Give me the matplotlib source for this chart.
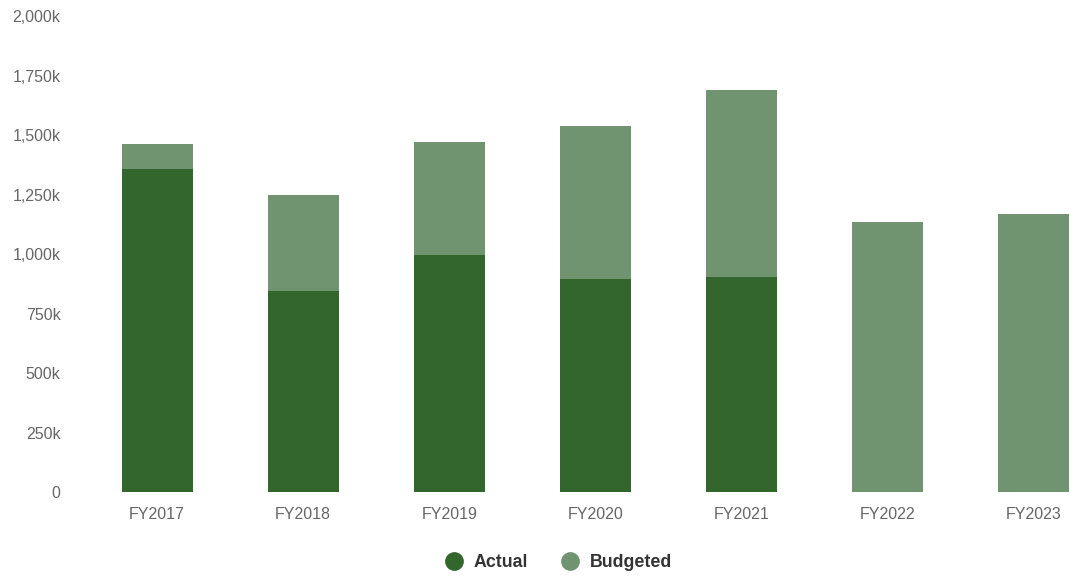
import matplotlib
matplotlib.use("Agg")
import matplotlib.pyplot as plt
from matplotlib.lines import Line2D
from matplotlib.ticker import FuncFormatter

plt.rcParams["font.family"] = "Liberation Sans"

# ---------------------------------------------------------------- data (k)
years = ["FY2017", "FY2018", "FY2019", "FY2020", "FY2021", "FY2022", "FY2023"]
actual = [1357, 845, 996, 895, 903, None, None]
budgeted = [1462, 1248, 1471, 1538, 1689, 1134, 1168]
y_ticks = [0, 250, 500, 750, 1000, 1250, 1500, 1750, 2000]

# ---------------------------------------------------------------- colours
DARK = "#33662D"
LIGHT = "#6F946F"
TICK = "#666666"
LEGEND_TXT = "#333333"

fig = plt.figure(figsize=(10.7, 5.76), dpi=100)
fig.patch.set_facecolor("white")
# plot area runs a little past the right edge, as in the reference
ax = fig.add_axes([0.0785, 0.1458, 0.956, 0.8264])

x = list(range(len(years)))
ax.bar(x, budgeted, width=0.486, color=LIGHT, edgecolor="none", zorder=2)
ax_x = [i for i, v in enumerate(actual) if v is not None]
ax_v = [v for v in actual if v is not None]
ax.bar(ax_x, ax_v, width=0.486, color=DARK, edgecolor="none", zorder=3)

ax.set_xlim(-0.5, len(years) - 0.5)
ax.set_ylim(0, 2000)
ax.set_yticks(y_ticks)
ax.yaxis.set_major_formatter(FuncFormatter(lambda v, _: "0" if v == 0 else f"{v:,.0f}k"))
ax.set_xticks(x)
ax.set_xticklabels(years)
ax.tick_params(axis="y", length=0, pad=17, labelsize=11.5, labelcolor=TICK)
ax.tick_params(axis="x", length=0, pad=11, labelsize=11.5, labelcolor=TICK)
for s in ax.spines.values():
    s.set_visible(False)

handles = [
    Line2D([], [], marker="o", linestyle="none", markersize=13.5,
           markerfacecolor=DARK, markeredgecolor="none", label="Actual"),
    Line2D([], [], marker="o", linestyle="none", markersize=13.5,
           markerfacecolor=LIGHT, markeredgecolor="none", label="Budgeted"),
]
leg = fig.legend(handles=handles, loc="center", bbox_to_anchor=(0.522, 0.023),
                 ncol=2, frameon=False, handlelength=1.0, handletextpad=0.6,
                 columnspacing=1.9, borderpad=0,
                 prop={"size": 12.8, "weight": "bold"})
for t in leg.get_texts():
    t.set_color(LEGEND_TXT)

fig.savefig("out.png", dpi=100, facecolor="white")
